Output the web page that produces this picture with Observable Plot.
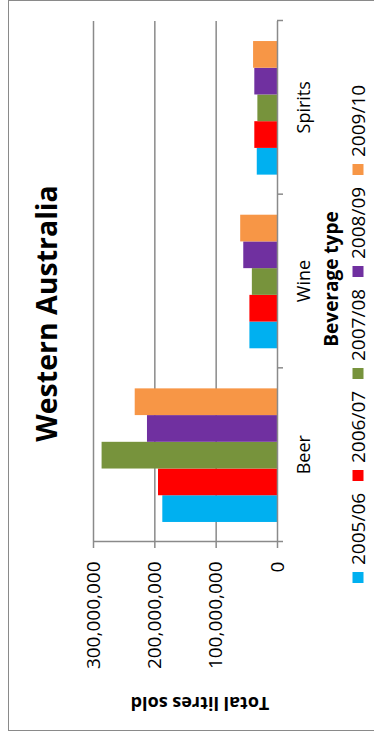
<!DOCTYPE html>
<html>
<head>
<meta charset="utf-8">
<script src="https://cdn.jsdelivr.net/npm/d3@7"></script>
<script src="https://cdn.jsdelivr.net/npm/@observablehq/plot@0.6"></script>
<style>
  html, body { margin: 0; padding: 0; background: #fff; overflow: hidden; }
  body { width: 374px; height: 736px; position: relative; }
  /* The chart is laid out as a 736×374 column chart, then turned a quarter turn counter-clockwise. */
  #chart {
    position: absolute; left: 0; top: 736px;
    width: 736px; height: 374px;
    transform-origin: 0 0; transform: rotate(-90deg);
    font-family: "Open Sans", sans-serif; color: #000;
  }
  #frame {
    position: absolute; left: 5px; top: 8px; width: 731px; height: 380px;
    box-sizing: border-box; border: 1.5px solid #8a8a8a;
  }
  .lbl { position: absolute; white-space: nowrap; line-height: 1; transform: translate(-50%, -50%); }
  #title { left: 422.5px; top: 46px; font-size: 28.5px; font-weight: bold; }
  #ytitle { left: 31.5px; top: 200px; font-size: 18px; font-weight: bold; transform: translate(-50%, -50%) rotate(-90deg); }
  #xtitle { left: 457px; top: 331px; font-size: 19px; font-weight: bold; }
  #legend { position: absolute; left: 153px; top: 357.5px; display: flex; transform: translateY(-50%); }
  #legend .item { width: 102px; display: flex; align-items: center; font-size: 19px; line-height: 1; }
  #legend .sw { width: 11px; height: 11px; margin-right: 7px; flex: none; }
  #chart svg { position: absolute; left: 0; top: 0; }
</style>
</head>
<body>
<div id="chart">
  <div id="frame"></div>
  <div id="title" class="lbl">Western Australia</div>
  <div id="ytitle" class="lbl">Total litres sold</div>
  <div id="xtitle" class="lbl">Beverage type</div>
  <div id="legend"></div>
</div>
<script>
// Beverage categories and financial years
const categories = ["Beer", "Wine", "Spirits"];
const years = ["2005/06", "2006/07", "2007/08", "2008/09", "2009/10"];

// Total litres sold per year, in category order (Beer, Wine, Spirits)
const litres0506 = [187e6, 45e6, 33e6];
const litres0607 = [194e6, 45e6, 37e6];
const litres0708 = [286e6, 41e6, 32e6];
const litres0809 = [212e6, 55e6, 37e6];
const litres0910 = [232e6, 60e6, 39e6];

// Value-axis tick values
const yTicks = [0, 100e6, 200e6, 300e6];

const seriesColors = ["#00b0f0", "#ff0000", "#77933c", "#7030a0", "#f79646"];
const gridColor = "#8a8a8a";

const series = [litres0506, litres0607, litres0708, litres0809, litres0910];

// Each category occupies one unit on x; bars of a group sit side by side,
// with three-quarters of a bar width of space at each end of the group.
const groupPad = 0.75;
const steps = years.length + 2 * groupPad;
const bars = [];
categories.forEach((category, i) => {
  years.forEach((year, j) => {
    bars.push({
      category,
      year,
      value: series[j][i],
      x1: i + (groupPad + j) / steps,
      x2: i + (groupPad + j + 1) / steps
    });
  });
});

const chart = Plot.plot({
  width: 736,
  height: 374,
  marginLeft: 194,
  marginRight: 21,
  marginTop: 93,
  marginBottom: 97,
  style: { fontFamily: "Open Sans, sans-serif", background: "transparent", overflow: "visible", color: "#000" },
  x: { domain: [0, categories.length], axis: null },
  y: { domain: [yTicks[0], yTicks[yTicks.length - 1]], axis: null },
  color: { domain: years, range: seriesColors },
  marks: [
    Plot.ruleY(yTicks.slice(1), { stroke: gridColor, strokeWidth: 1.5 }),
    Plot.rectY(bars, { x1: "x1", x2: "x2", y: "value", fill: "year" }),
    Plot.ruleY([0], { stroke: gridColor, strokeWidth: 1.5 }),
    Plot.ruleX([0], { stroke: gridColor, strokeWidth: 1.5 }),
    Plot.axisY({
      ticks: yTicks, tickSize: 6, tickPadding: 14, label: null,
      tickFormat: d3.format(","), fontSize: 19, stroke: gridColor, strokeWidth: 1.5, fill: "#000"
    }),
    // tick marks at the boundaries between categories
    Plot.axisX({
      ticks: d3.range(categories.length + 1), tickSize: 6, label: null,
      tickFormat: () => "", stroke: gridColor, strokeWidth: 1.5
    }),
    // category names centred under each group
    Plot.axisX({
      ticks: categories.map((_, i) => i + 0.5), tickSize: 0, tickPadding: 20, label: null,
      tickFormat: (d) => categories[Math.floor(d)], fontSize: 18, fill: "#000"
    })
  ]
});

document.getElementById("chart").appendChild(chart);

// Legend row built from the plot's colour scale
const color = chart.scale("color");
const legend = document.getElementById("legend");
color.domain.forEach((year, k) => {
  const item = document.createElement("div");
  item.className = "item";
  const sw = document.createElement("span");
  sw.className = "sw";
  sw.style.background = color.range[k];
  const txt = document.createElement("span");
  txt.textContent = year;
  item.append(sw, txt);
  legend.appendChild(item);
});
</script>
</body>
</html>
